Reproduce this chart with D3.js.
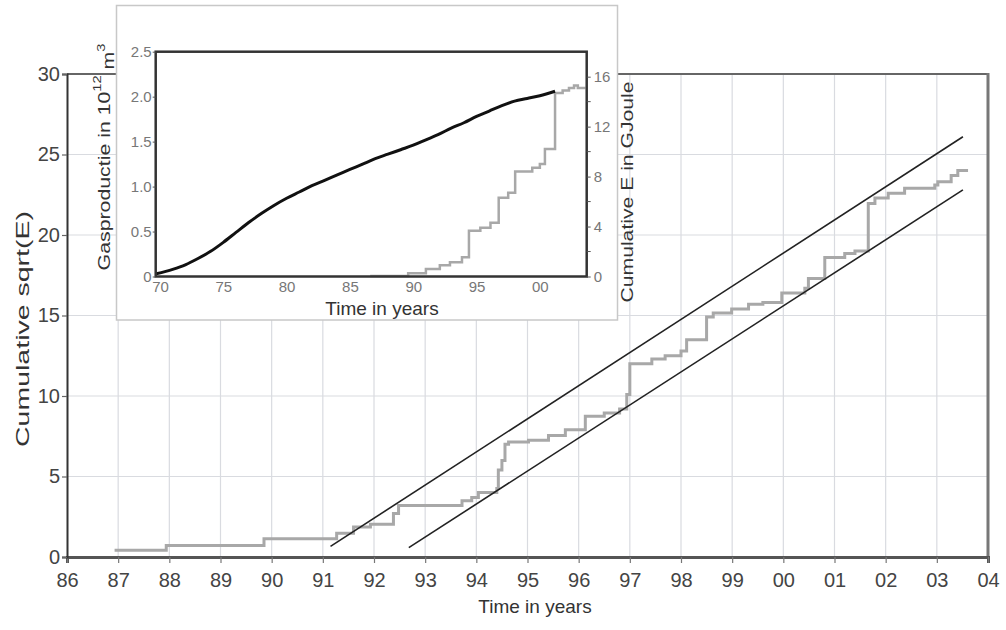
<!DOCTYPE html>
<html>
<head>
<meta charset="utf-8">
<script src="https://cdn.jsdelivr.net/npm/d3@7"></script>
<style>
html,body{margin:0;padding:0;background:#fff;}
svg{display:block;font-family:"Liberation Sans",Arial,sans-serif;}
</style>
</head>
<body>
<svg id="chart" width="1006" height="630"></svg>
<script>
// ---------- Main chart data ----------
const mainTicksX = [1986,1987,1988,1989,1990,1991,1992,1993,1994,1995,1996,1997,1998,1999,2000,2001,2002,2003,2004];
const mainTicksY = [0,5,10,15,20,25,30];
const stepYears = [1986.93,1987.94,1989.85,1991.27,1991.6,1991.93,1992.38,1992.48,1993.72,1993.91,1994.04,1994.4,1994.43,1994.5,1994.56,1994.63,1995.02,1995.41,1995.74,1996.13,1996.5,1996.8,1996.94,1997.0,1997.43,1997.69,1998.0,1998.11,1998.5,1998.63,1998.99,1999.32,1999.6,1999.97,2000.42,2000.49,2000.81,2001.2,2001.4,2001.66,2001.79,2002.05,2002.37,2002.96,2003.02,2003.28,2003.41,2003.61];
const stepSqrtE = [0.42,0.72,1.14,1.47,1.86,2.03,2.7,3.2,3.5,3.7,4.0,4.25,5.4,6.0,7.0,7.15,7.25,7.55,7.9,8.75,8.95,9.2,10.1,12.0,12.3,12.5,12.8,13.5,14.9,15.15,15.4,15.7,15.8,16.4,16.7,17.3,18.6,18.85,19.0,21.95,22.3,22.6,22.9,23.1,23.3,23.7,24.0,24.0];
const upperLineYears = [1991.15, 2003.51];
const upperLineVals = [0.66, 26.1];
const lowerLineYears = [1992.68, 2003.51];
const lowerLineVals = [0.58, 22.8];

// ---------- Inset data ----------
const insetTicksX = [1970,1975,1980,1985,1990,1995,2000];
const insetTicksLeft = [0,0.5,1.0,1.5,2.0,2.5];
const insetTicksRight = [0,4,8,12,16];
const insetMinorRight = [2,6,10,14];
const gasYears = [1969.7,1971,1972,1973,1974,1975,1976,1977,1978,1979,1980,1981,1982,1983,1984,1985,1986,1987,1988,1989,1990,1991,1992,1993,1994,1995,1996,1997,1998,1999,2000,2001.2];
const gasVals = [0.03,0.08,0.13,0.2,0.28,0.38,0.49,0.6,0.7,0.79,0.87,0.94,1.01,1.07,1.13,1.19,1.25,1.31,1.36,1.41,1.46,1.52,1.58,1.65,1.71,1.78,1.84,1.9,1.95,1.98,2.01,2.06];
const cumEYears = [1986.6,1989.6,1991.0,1992.1,1992.9,1993.85,1994.4,1995.3,1996.1,1996.75,1997.5,1998.05,1999.4,2000.0,2000.4,2001.2,2001.8,2002.3,2002.7,2003.0,2003.5];
const cumEVals = [0.05,0.26,0.6,0.9,1.15,1.55,3.66,3.9,4.3,6.3,6.7,8.4,8.7,9.0,10.2,14.7,14.9,15.1,15.3,15.1,15.2];

const svg = d3.select("#chart");
const fmtYr = d => String(Math.round(d) % 100).padStart(2, "0");

// ---------- Main chart ----------
const M = {left: 67, right: 988, top: 74, bottom: 557};
const x = d3.scaleLinear().domain([1986, 2004]).range([M.left, M.right]);
const y = d3.scaleLinear().domain([0, 30]).range([M.bottom, M.top]);

const grid = svg.append("g");
grid.selectAll("line.v").data(mainTicksX.slice(1, -1)).join("line")
  .attr("x1", d => x(d)).attr("x2", d => x(d)).attr("y1", M.top).attr("y2", M.bottom)
  .attr("stroke", "#d9dbe0").attr("stroke-width", 1.2);
grid.selectAll("line.h").data(mainTicksY.slice(1, -1)).join("line")
  .attr("x1", M.left).attr("x2", M.right).attr("y1", d => y(d)).attr("y2", d => y(d))
  .attr("stroke", "#d9dbe0").attr("stroke-width", 1.2);

const stepData = stepYears.map((t, i) => [t, stepSqrtE[i]]);
svg.append("path").datum(stepData)
  .attr("d", d3.line().x(d => x(d[0])).y(d => y(d[1])).curve(d3.curveStepAfter))
  .attr("fill", "none").attr("stroke", "#a8a8a8").attr("stroke-width", 3);

[[upperLineYears, upperLineVals], [lowerLineYears, lowerLineVals]].forEach(([ys, vs]) => {
  svg.append("path").datum(ys.map((t, i) => [t, vs[i]]))
    .attr("d", d3.line().x(d => x(d[0])).y(d => y(d[1])))
    .attr("fill", "none").attr("stroke", "#222").attr("stroke-width", 1.6);
});

// frame
svg.append("line").attr("x1", M.left).attr("x2", M.right).attr("y1", M.top).attr("y2", M.top)
  .attr("stroke", "#666").attr("stroke-width", 2);
svg.append("line").attr("x1", M.right).attr("x2", M.right).attr("y1", M.top - 1).attr("y2", M.bottom)
  .attr("stroke", "#777").attr("stroke-width", 3);

const xAxis = svg.append("g").attr("transform", `translate(0,${M.bottom})`)
  .call(d3.axisBottom(x).tickValues(mainTicksX).tickFormat(fmtYr).tickSize(6).tickPadding(10));
xAxis.select(".domain").attr("stroke", "#555").attr("stroke-width", 3);
xAxis.selectAll(".tick line").attr("stroke", "#777").attr("stroke-width", 1.2);
xAxis.selectAll("text").attr("font-size", 20).attr("fill", "#444").attr("font-family", "Liberation Sans, Arial");

const yAxis = svg.append("g").attr("transform", `translate(${M.left},0)`)
  .call(d3.axisLeft(y).tickValues(mainTicksY).tickSize(5).tickPadding(2));
yAxis.select(".domain").attr("stroke", "#333").attr("stroke-width", 2);
yAxis.selectAll(".tick line").attr("stroke", "#666").attr("stroke-width", 1.2);
yAxis.selectAll("text").attr("font-size", 20).attr("fill", "#444").attr("font-family", "Liberation Sans, Arial");

svg.append("text").attr("x", 535).attr("y", 613).attr("text-anchor", "middle")
  .attr("font-size", 19).attr("fill", "#333").text("Time in years");

function stretchedRotated(sel, cx, cy, targetLen) {
  const w = sel.node().getComputedTextLength();
  sel.attr("text-anchor", "middle")
     .attr("transform", `translate(${cx},${cy}) rotate(-90) scale(${targetLen / w},1)`);
}
const yLab = svg.append("text").attr("font-size", 19).attr("fill", "#333")
  .attr("dy", "0.35em").text("Cumulative sqrt(E)");
stretchedRotated(yLab, 22, 329, 236);

// ---------- Inset ----------
svg.append("rect").attr("x", 116.5).attr("y", 5.5).attr("width", 501).attr("height", 314.5)
  .attr("fill", "#fff").attr("stroke", "#c8c8c8").attr("stroke-width", 1.5);

const I = {left: 155.7, right: 586.7, top: 51.7, bottom: 276.5};
const ix = d3.scaleLinear().domain([1969.66, 2003.7]).range([I.left, I.right]);
const iyL = d3.scaleLinear().domain([0, 2.5]).range([I.bottom, I.top]);
const iyR = d3.scaleLinear().domain([0, 18]).range([I.bottom, I.top]);

svg.append("path").datum(cumEYears.map((t, i) => [t, cumEVals[i]]))
  .attr("d", d3.line().x(d => ix(d[0])).y(d => iyR(d[1])).curve(d3.curveStepAfter))
  .attr("fill", "none").attr("stroke", "#a8a8a8").attr("stroke-width", 2.5);

svg.append("path").datum(gasYears.map((t, i) => [t, gasVals[i]]))
  .attr("d", d3.line().x(d => ix(d[0])).y(d => iyL(d[1])).curve(d3.curveMonotoneX))
  .attr("fill", "none").attr("stroke", "#111").attr("stroke-width", 3);

svg.append("rect").attr("x", I.left).attr("y", I.top).attr("width", I.right - I.left).attr("height", I.bottom - I.top)
  .attr("fill", "none").attr("stroke", "#333").attr("stroke-width", 2.5);

const ixAxis = svg.append("g").attr("transform", `translate(0,${I.bottom})`)
  .call(d3.axisBottom(ix).tickValues(insetTicksX).tickFormat(fmtYr).tickSize(0).tickPadding(5));
ixAxis.select(".domain").remove();
ixAxis.selectAll("text").attr("font-size", 15).attr("fill", "#777").attr("font-family", "Liberation Sans, Arial");

const iyLAxis = svg.append("g").attr("transform", `translate(${I.left},0)`)
  .call(d3.axisLeft(iyL).tickValues(insetTicksLeft).tickFormat(d => d === 0 ? "0" : d3.format(".1f")(d)).tickSize(3).tickPadding(1));
iyLAxis.select(".domain").remove();
iyLAxis.selectAll(".tick line").attr("stroke", "#555");
iyLAxis.selectAll("text").attr("font-size", 15).attr("fill", "#777").attr("font-family", "Liberation Sans, Arial");

const iyRAxis = svg.append("g").attr("transform", `translate(${I.right},0)`)
  .call(d3.axisRight(iyR).tickValues(insetTicksRight).tickSize(4).tickPadding(3));
iyRAxis.select(".domain").remove();
iyRAxis.selectAll(".tick line").attr("stroke", "#555");
iyRAxis.selectAll("text").attr("font-size", 15).attr("fill", "#777").attr("font-family", "Liberation Sans, Arial");
svg.append("g").selectAll("line").data(insetMinorRight).join("line")
  .attr("x1", I.right).attr("x2", I.right + 4).attr("y1", d => iyR(d)).attr("y2", d => iyR(d))
  .attr("stroke", "#555");

svg.append("text").attr("x", 382).attr("y", 315).attr("text-anchor", "middle")
  .attr("font-size", 19).attr("fill", "#333").text("Time in years");

const gasLab = svg.append("text").attr("font-size", 16).attr("fill", "#333").attr("dy", "0.35em");
gasLab.append("tspan").text("Gasproductie in 10");
gasLab.append("tspan").attr("font-size", 11).attr("dy", "-0.8em").text("12");
gasLab.append("tspan").attr("dy", "0.8em").text(" m");
gasLab.append("tspan").attr("font-size", 11).attr("dy", "-0.8em").text("3");
stretchedRotated(gasLab, 104, 157, 227);

const eLab = svg.append("text").attr("font-size", 16).attr("fill", "#333")
  .attr("dy", "0.35em").text("Cumulative E in GJoule");
stretchedRotated(eLab, 627, 192, 221);
</script>
</body>
</html>
